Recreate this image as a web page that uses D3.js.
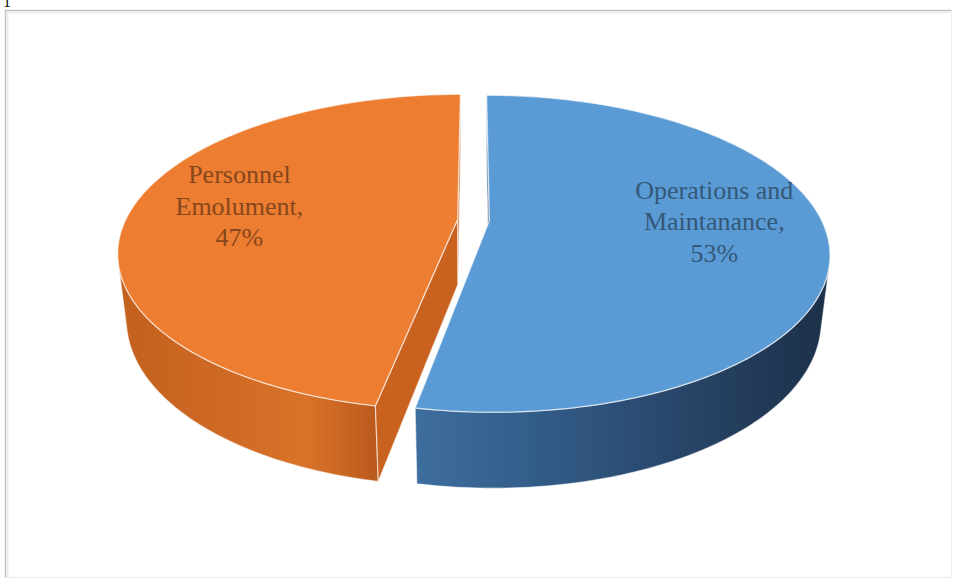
<!DOCTYPE html>
<html>
<head>
<meta charset="utf-8">
<script src="https://cdn.jsdelivr.net/npm/d3@7"></script>
<style>
  body { margin: 0; background: #fff; }
  svg { display: block; }
</style>
</head>
<body>
<div id="chart"></div>
<script>
// data
const categories = ["Operations and Maintanance", "Personnel Emolument"];
const shares = [53, 47];
const labelLines = [["Operations and", "Maintanance,"], ["Personnel", "Emolument,"]];
const sliceColors = ["#5B9BD5", "#ED7D31"];
const sideStops = [
  [[0, "#3E6E9E"], [0.3, "#325C88"], [0.65, "#284568"], [1, "#1C3048"]],
  [[0, "#C2601D"], [0.45, "#D06B25"], [0.72, "#D97329"], [1, "#B9591B"]]
];
const cutColors = ["#2F5A86", "#C9621F"];

const width = 957, height = 582;

// fake 3d camera
const cx0 = 473.5, cy0 = 220;
const D = 4.27, F = 1418, tilt = 27.1 * Math.PI / 180;
const cosA = Math.cos(tilt), sinA = Math.sin(tilt);
const thick = 0.225, explode = 0.048;
const cam = [0, D * sinA, D * cosA];

function proj(X, Y, Z) {
  const yc = Y * cosA - Z * sinA;
  const zc = D - Y * sinA - Z * cosA;
  return [cx0 + F * X / zc, cy0 - F * yc / zc];
}
// point on the rim, angle clockwise from the back
function rim(a, r, off) {
  return [off[0] + r * Math.sin(a), off[1] - r * Math.cos(a)];
}
function faces(n, p) {
  const v = [cam[0] - p[0], cam[1] - p[1], cam[2] - p[2]];
  return n[0] * v[0] + n[1] * v[1] + n[2] * v[2] > 0;
}

const svg = d3.select("#chart").append("svg")
  .attr("width", width).attr("height", height);

// frame
svg.append("text").attr("x", 3).attr("y", 7)
  .attr("font-family", "Liberation Serif").attr("font-size", 16)
  .attr("fill", "#111").text("1");
svg.append("rect").attr("x", 5.5).attr("y", 10.5)
  .attr("width", 946).attr("height", 567)
  .attr("fill", "none").attr("stroke", "#EDEDED");
svg.append("path").attr("d", "M5.5,577.5V10.5H951.5")
  .attr("fill", "none").attr("stroke", "#C2C2C2").attr("stroke-width", 1.5);
svg.append("path").attr("d", "M7.5,577V12.5H950")
  .attr("fill", "none").attr("stroke", "#ECECEC").attr("stroke-width", 2);

const defs = svg.append("defs");
sideStops.forEach((stops, i) => {
  const g = defs.append("linearGradient").attr("id", "side" + i)
    .attr("x1", 0).attr("x2", 1).attr("y1", 0).attr("y2", 0);
  stops.forEach(s => g.append("stop").attr("offset", s[0]).attr("stop-color", s[1]));
});

const pie = d3.pie().sort(null).value(d => d).startAngle(0).endAngle(2 * Math.PI);
const arcs = pie(shares);
const step = Math.PI / 180;

const slices = arcs.map((d, i) => {
  const mid = (d.startAngle + d.endAngle) / 2;
  const off = rim(mid, explode, [0, 0]);
  const angles = d3.range(d.startAngle, d.endAngle, step).concat([d.endAngle]);
  return {d, i, mid, off, angles};
});

const line = d3.line();
const gSide = svg.append("g"), gCut = svg.append("g"), gTop = svg.append("g"), gLab = svg.append("g");

slices.forEach(s => {
  const {d, i, off, angles} = s;

  // outer wall, only the part turned to the camera
  const vis = angles.filter(a => {
    const p = rim(a, 1, off);
    return faces([Math.sin(a), 0, -Math.cos(a)], [p[0], -thick / 2, p[1]]);
  });
  if (vis.length > 1) {
    const top = vis.map(a => { const p = rim(a, 1, off); return proj(p[0], 0, p[1]); });
    const bot = vis.map(a => { const p = rim(a, 1, off); return proj(p[0], -thick, p[1]); }).reverse();
    gSide.append("path").attr("d", line(top.concat(bot)) + "Z")
      .attr("fill", `url(#side${i})`)
      .attr("stroke", "#fff").attr("stroke-opacity", 0.55).attr("stroke-width", 1.2);
  }

  // cut faces at both radii
  [[d.startAngle, -1], [d.endAngle, 1]].forEach(([a, sgn]) => {
    const na = a + sgn * Math.PI / 2;
    const n = [Math.sin(na), 0, -Math.cos(na)];
    const e = rim(a, 1, off);
    const c = [(off[0] + e[0]) / 2, -thick / 2, (off[1] + e[1]) / 2];
    if (!faces(n, c)) return;
    const pts = [proj(off[0], 0, off[1]), proj(e[0], 0, e[1]),
                 proj(e[0], -thick, e[1]), proj(off[0], -thick, off[1])];
    gCut.append("path").attr("d", line(pts) + "Z")
      .attr("fill", cutColors[i])
      .attr("stroke", "#fff").attr("stroke-opacity", 0.6).attr("stroke-width", 1.2);
  });

  // top face
  const topPts = [proj(off[0], 0, off[1])].concat(angles.map(a => {
    const p = rim(a, 1, off); return proj(p[0], 0, p[1]);
  }));
  gTop.append("path").attr("d", line(topPts) + "Z")
    .attr("fill", sliceColors[i])
    .attr("stroke", "#fff").attr("stroke-opacity", 0.6).attr("stroke-width", 1.3);

  // label
  const lp = rim(s.mid, 0.67, off);
  const at = proj(lp[0], 0, lp[1]);
  const lines = labelLines[i].concat([shares[i] + "%"]);
  const t = gLab.append("text")
    .attr("font-family", "Liberation Serif, Times New Roman, serif")
    .attr("font-size", 26).attr("text-anchor", "middle")
    .attr("fill", d3.color(sliceColors[i]).darker(1.6));
  lines.forEach((txt, k) => {
    t.append("tspan").attr("x", at[0])
      .attr("y", at[1] + 1 + (k - 1) * 31.5 + (i === 0 ? -1 : 4)).text(txt);
  });
});
</script>
</body>
</html>
